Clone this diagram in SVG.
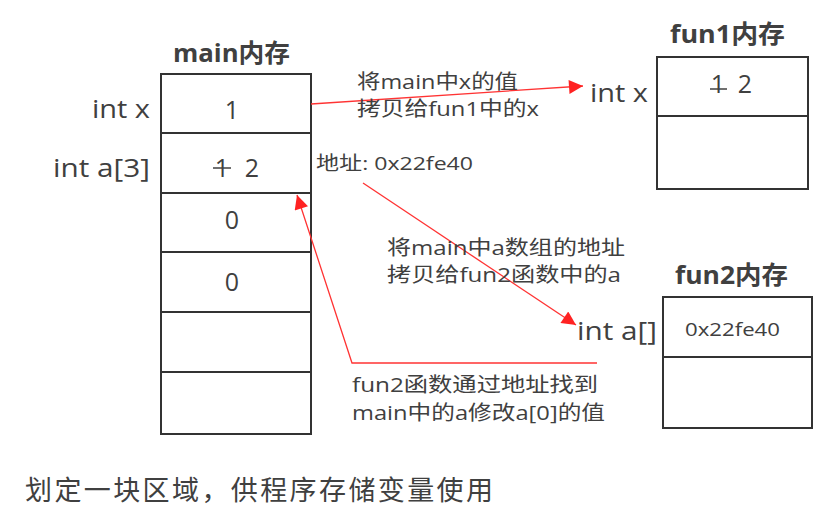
<svg xmlns="http://www.w3.org/2000/svg" width="825" height="515" viewBox="0 0 825 515">
<defs>
<style>
text{font-family:"Open Sans","Noto Sans CJK SC",sans-serif;fill:#404040}
.title{font-size:25px;font-weight:bold}
.lbl{font-size:26px}
.val{font-size:25px;text-anchor:middle}
.note{font-size:20px}
.box{fill:#fff;stroke:#333;stroke-width:2}
.cell{stroke:#333;stroke-width:2}
.arr{fill:none;stroke:#ff3333;stroke-width:1.3}
.strike{stroke:#404040;stroke-width:1.5}
</style>
<marker id="ah" viewBox="0 0 10 10" refX="10" refY="5" markerWidth="20" markerHeight="14" markerUnits="userSpaceOnUse" orient="auto">
<path d="M0,0 L10,5 L0,10 Z" fill="#ff2222"/>
</marker>
</defs>
<rect width="825" height="515" fill="#fff"/>

<g id="main">
<text class="title" x="173" y="62" textLength="117" lengthAdjust="spacingAndGlyphs">main内存</text>
<rect class="box" x="161" y="74" width="150" height="360"/>
<line class="cell" x1="161" y1="133" x2="311" y2="133"/>
<line class="cell" x1="161" y1="193" x2="311" y2="193"/>
<line class="cell" x1="161" y1="252" x2="311" y2="252"/>
<line class="cell" x1="161" y1="312" x2="311" y2="312"/>
<line class="cell" x1="161" y1="372" x2="311" y2="372"/>
<text class="lbl" x="92" y="118" textLength="58" lengthAdjust="spacingAndGlyphs">int x</text>
<text class="lbl" x="53" y="177" textLength="97" lengthAdjust="spacingAndGlyphs">int a[3]</text>
<text class="val" x="232" y="119">1</text>
<text class="val" x="222" y="177">1</text>
<line class="strike" x1="213" y1="168" x2="231" y2="168"/>
<text class="val" x="252" y="177">2</text>
<text class="val" x="232" y="229">0</text>
<text class="val" x="232" y="291">0</text>
</g>

<g id="fun1">
<text class="title" x="670" y="43" textLength="115" lengthAdjust="spacingAndGlyphs">fun1内存</text>
<rect class="box" x="657" y="57" width="151" height="132"/>
<line class="cell" x1="657" y1="116" x2="808" y2="116"/>
<text class="lbl" x="590" y="102" textLength="58" lengthAdjust="spacingAndGlyphs">int x</text>
<text class="val" x="718" y="93">1</text>
<line class="strike" x1="710" y1="89" x2="727" y2="89"/>
<text class="val" x="745" y="93">2</text>
</g>

<g id="fun2">
<text class="title" x="675" y="284" textLength="113" lengthAdjust="spacingAndGlyphs">fun2内存</text>
<rect class="box" x="663" y="297" width="149" height="131"/>
<line class="cell" x1="663" y1="357" x2="812" y2="357"/>
<text class="lbl" x="577" y="340" textLength="80" lengthAdjust="spacingAndGlyphs">int a[]</text>
<text x="685" y="336" style="font-size:19px" textLength="95" lengthAdjust="spacingAndGlyphs">0x22fe40</text>
</g>

<g id="connectors">
<line class="arr" x1="311" y1="104" x2="583" y2="86" marker-end="url(#ah)"/>
<line class="arr" x1="363" y1="183" x2="576" y2="325" marker-end="url(#ah)"/>
<polyline class="arr" points="597,363 352,363 297,195" marker-end="url(#ah)"/>
</g>

<g id="notes">
<text class="note" x="357" y="89" textLength="161" lengthAdjust="spacingAndGlyphs">将main中x的值</text>
<text class="note" x="357" y="116" textLength="182" lengthAdjust="spacingAndGlyphs">拷贝给fun1中的x</text>
<text class="note" x="316" y="170" style="font-size:19px" textLength="157" lengthAdjust="spacingAndGlyphs">地址: 0x22fe40</text>
<text class="note" x="387" y="255" textLength="238" lengthAdjust="spacingAndGlyphs">将main中a数组的地址</text>
<text class="note" x="387" y="282" textLength="234" lengthAdjust="spacingAndGlyphs">拷贝给fun2函数中的a</text>
<text class="note" x="352" y="392" textLength="246" lengthAdjust="spacingAndGlyphs">fun2函数通过地址找到</text>
<text class="note" x="352" y="420" textLength="253" lengthAdjust="spacingAndGlyphs">main中的a修改a[0]的值</text>
<text x="25" y="500" style="font-size:27px" textLength="468">划定一块区域，供程序存储变量使用</text>
</g>
</svg>
